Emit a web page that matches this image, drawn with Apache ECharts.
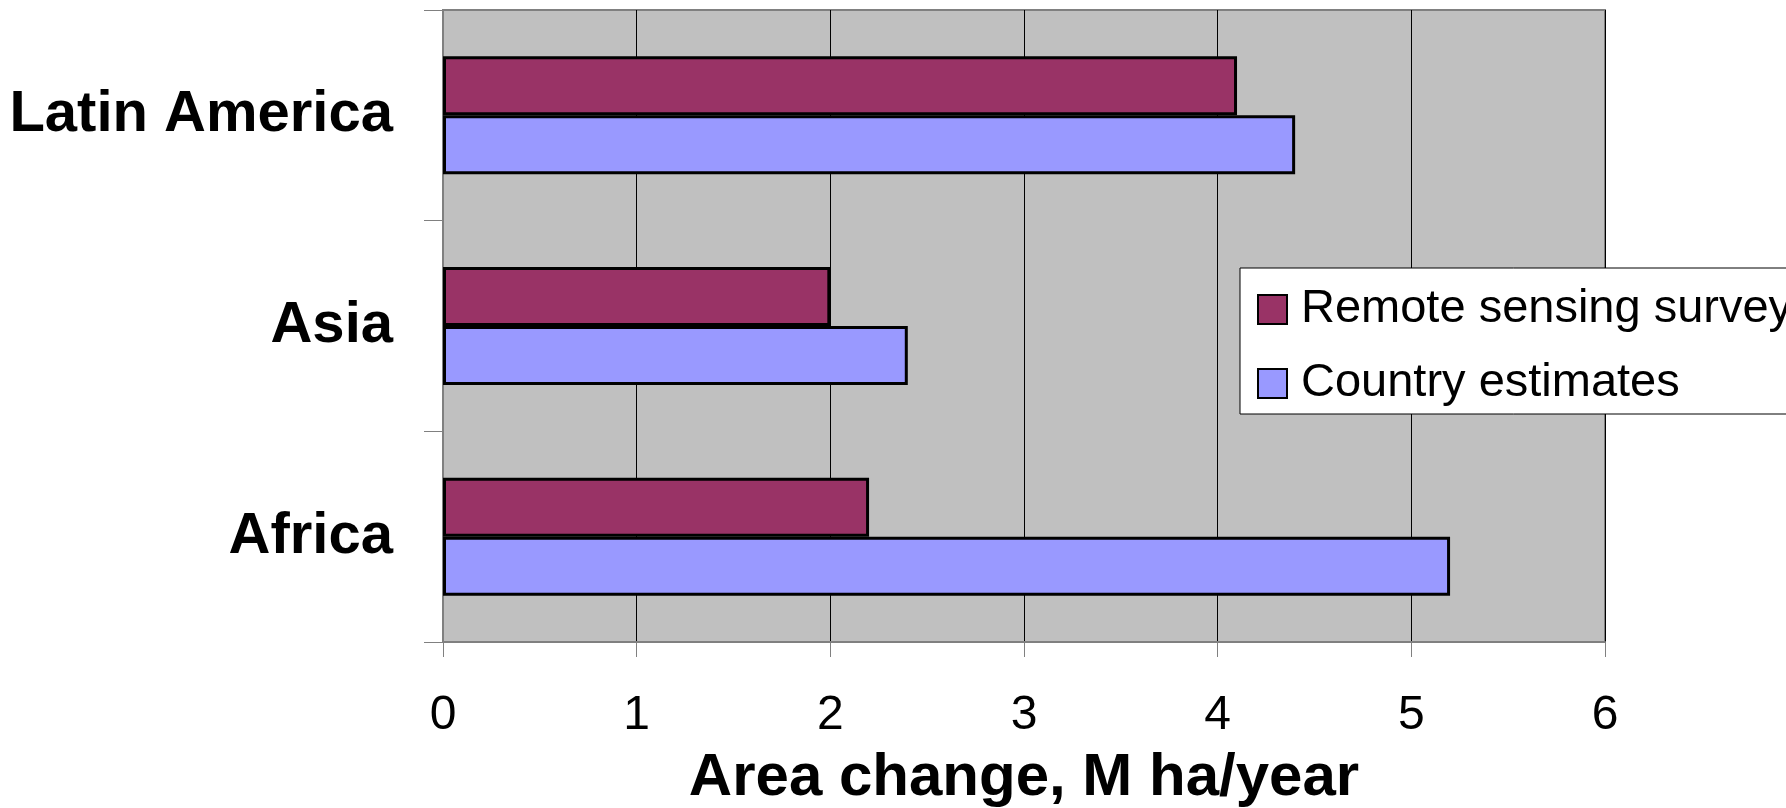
<!DOCTYPE html>
<html>
<head>
<meta charset="utf-8">
<title>Area change, M ha/year</title>
<script src="https://cdn.jsdelivr.net/npm/echarts@6/dist/echarts.min.js"></script>
<style>
  html, body { margin: 0; padding: 0; background: #ffffff; }
  #chart { width: 1786px; height: 808px; }
</style>
</head>
<body>
<div id="chart"></div>
<script>
// Regions, listed bottom to top along the category axis
const categories = ['Africa', 'Asia', 'Latin America'];
// Area change in M ha/year
const remoteSensing = [2.2, 2.0, 4.1];
const countryEstimates = [5.2, 2.4, 4.4];
const seriesNames = ['Remote sensing survey', 'Country estimates'];
const xMin = 0, xMax = 6, xStep = 1;

const FONT = '"Liberation Sans", Arial, Helvetica, sans-serif';

const chart = echarts.init(document.getElementById('chart'), null, { renderer: 'canvas' });

chart.setOption({
  backgroundColor: '#ffffff',
  animation: false,
  textStyle: { fontFamily: FONT },
  grid: {
    left: 443, right: 181, top: 10, bottom: 166,
    outerBoundsMode: 'none',
    containLabel: false,
    show: true,
    backgroundColor: '#C0C0C0',
    borderColor: '#808080',
    borderWidth: 2
  },
  legend: {
    data: seriesNames,
    orient: 'vertical',
    left: 1240,
    top: 268,
    itemWidth: 29,
    itemHeight: 29,
    itemGap: 27,
    icon: 'rect',
    padding: [18, 80, 7, 17],
    backgroundColor: '#ffffff',
    borderColor: '#000000',
    borderWidth: 1,
    itemStyle: { borderColor: '#000000', borderWidth: 2 },
    textStyle: { fontSize: 47, color: '#000000', fontFamily: FONT, padding: [0, 0, 0, 9] }
  },
  xAxis: {
    type: 'value',
    min: xMin, max: xMax, interval: xStep,
    name: 'Area change, M ha/year',
    nameLocation: 'middle',
    nameGap: 106,
    nameTextStyle: { fontSize: 60, fontWeight: 'bold', color: '#000000', fontFamily: FONT },
    axisLine: { show: true, lineStyle: { color: '#808080', width: 2 } },
    axisTick: { show: true, length: 15, lineStyle: { color: '#808080', width: 1 } },
    axisLabel: { fontSize: 48, color: '#000000', margin: 50, fontFamily: FONT },
    splitLine: { show: true, lineStyle: { color: '#000000', width: 1 } }
  },
  yAxis: {
    type: 'category',
    data: categories,
    axisLine: { show: true, lineStyle: { color: '#808080', width: 2 } },
    axisTick: { show: true, length: 19, lineStyle: { color: '#808080', width: 1 } },
    axisLabel: {
      fontSize: 58, fontWeight: 'bold', color: '#000000', margin: 50,
      padding: [6, 0, 0, 0], fontFamily: FONT
    },
    splitLine: { show: false }
  },
  series: [
    {
      name: seriesNames[0],
      type: 'bar',
      data: remoteSensing,
      barWidth: 59,
      barGap: '0%',
      itemStyle: { color: '#993366', borderColor: '#000000', borderWidth: 3 }
    },
    {
      name: seriesNames[1],
      type: 'bar',
      data: countryEstimates,
      barWidth: 59,
      barGap: '0%',
      itemStyle: { color: '#9999FF', borderColor: '#000000', borderWidth: 3 }
    }
  ]
});
</script>
</body>
</html>
